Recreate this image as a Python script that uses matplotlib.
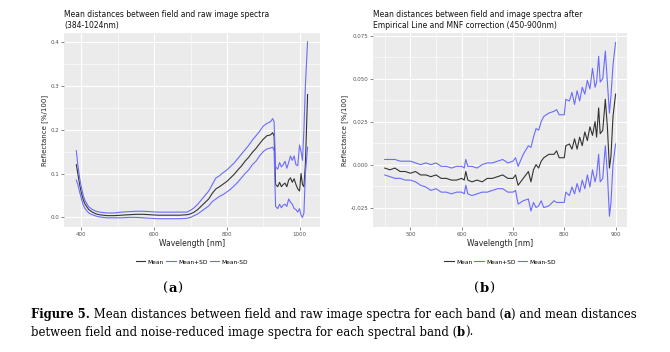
import numpy as np
import matplotlib.pyplot as plt
from matplotlib.ticker import MultipleLocator

# panel (a): raw image spectra
wl_a = [386, 390, 395, 400, 405, 410, 420, 430, 440, 450,
        470, 490, 510, 530, 550, 570, 590, 610, 630, 650, 670, 690,
        700, 710, 720, 730, 740, 750, 760, 770, 780, 790, 800, 810, 820,
        830, 840, 850, 860, 870, 880, 890, 900, 910, 920, 926, 930,
        934, 940, 945, 950, 955, 960, 965, 970, 975, 980, 985, 990, 995, 1000,
        1004, 1008, 1012, 1016, 1019, 1022]
mean_a = [0.12, 0.10, 0.075, 0.055, 0.04, 0.03, 0.018, 0.012, 0.008, 0.006,
          0.004, 0.004, 0.005, 0.006, 0.007, 0.007, 0.006, 0.005, 0.005, 0.005, 0.005, 0.006,
          0.008, 0.012, 0.018, 0.026, 0.034, 0.042, 0.055, 0.065, 0.070, 0.076, 0.082, 0.090, 0.098,
          0.108, 0.117, 0.128, 0.137, 0.148, 0.157, 0.168, 0.178, 0.186, 0.188, 0.193, 0.185,
          0.075, 0.070, 0.080, 0.070, 0.075, 0.078, 0.070, 0.085, 0.090, 0.080, 0.088, 0.075, 0.065, 0.060,
          0.100, 0.075, 0.070, 0.120, 0.200, 0.280]
plus_a = [0.152, 0.12, 0.09, 0.068, 0.05, 0.038, 0.024, 0.018, 0.014, 0.012,
          0.010, 0.010, 0.012, 0.013, 0.014, 0.014, 0.013, 0.012, 0.012, 0.012, 0.012, 0.012,
          0.016, 0.022, 0.030, 0.040, 0.050, 0.060, 0.075, 0.090, 0.095, 0.102, 0.108, 0.116, 0.124,
          0.134, 0.144, 0.154, 0.164, 0.176, 0.186, 0.196, 0.208, 0.214, 0.218, 0.225, 0.218,
          0.115, 0.110, 0.125, 0.115, 0.120, 0.128, 0.112, 0.125, 0.140, 0.130, 0.140, 0.120, 0.118, 0.165,
          0.150, 0.130, 0.200, 0.300, 0.350, 0.400]
minus_a = [0.085, 0.075, 0.058, 0.042, 0.028, 0.02, 0.010, 0.006, 0.003, 0.001,
           -0.001, -0.001, -0.001, 0.000, 0.000, -0.001, -0.002, -0.003, -0.003, -0.003, -0.003, -0.002,
           0.000, 0.004, 0.008, 0.014, 0.020, 0.026, 0.036, 0.042, 0.048, 0.052, 0.058, 0.064, 0.072,
           0.080, 0.090, 0.100, 0.108, 0.120, 0.128, 0.140, 0.150, 0.156, 0.158, 0.160, 0.152,
           0.025, 0.020, 0.030, 0.022, 0.028, 0.030, 0.025, 0.042, 0.035, 0.030, 0.020, 0.018, 0.012, 0.020,
           0.005, 0.000, 0.010, 0.100, 0.130, 0.160]

# panel (b): after Empirical Line + MNF
wl_b = [450, 460, 470, 480, 490, 500, 510, 520, 530, 540, 550, 560, 570, 580, 590,
        600, 605, 608, 612, 620, 630, 640, 650, 660, 670, 680, 690, 700, 705, 710,
        720, 730, 735, 740, 745, 750, 755, 760, 770, 780, 785, 790, 800, 803, 810,
        815, 820, 825, 830, 835, 840, 845, 850, 855, 860, 863, 867, 870, 875, 880,
        884, 888, 891, 895, 900]
mean_b = [-0.002, -0.003, -0.002, -0.004, -0.004, -0.005, -0.004, -0.006, -0.006, -0.007, -0.006, -0.008, -0.008, -0.009, -0.009,
          -0.008, -0.009, -0.004, -0.009, -0.010, -0.009, -0.010, -0.008, -0.008, -0.007, -0.006, -0.008, -0.008, -0.006, -0.012,
          -0.008, -0.004, -0.010, -0.003, 0.000, -0.002, 0.002, 0.004, 0.006, 0.006, 0.008, 0.004, 0.004, 0.011, 0.012,
          0.009, 0.015, 0.009, 0.016, 0.011, 0.019, 0.014, 0.022, 0.017, 0.025, 0.016, 0.033, 0.018, 0.020, 0.038,
          0.022, -0.002, 0.005, 0.028, 0.041]
plus_b = [0.003, 0.003, 0.003, 0.002, 0.002, 0.002, 0.001, 0.000, 0.001, 0.000, 0.001, -0.001, -0.001, -0.002, -0.001,
          -0.001, -0.002, 0.003, -0.001, -0.001, -0.002, 0.000, 0.001, 0.001, 0.002, 0.003, 0.001, 0.002, 0.004, -0.001,
          0.006, 0.011, 0.010, 0.016, 0.021, 0.020, 0.025, 0.028, 0.030, 0.031, 0.032, 0.029, 0.029, 0.038, 0.037,
          0.042, 0.035, 0.043, 0.037, 0.045, 0.041, 0.049, 0.044, 0.056, 0.045, 0.048, 0.063, 0.048, 0.050, 0.066,
          0.048, 0.030, 0.040, 0.058, 0.071]
minus_b = [-0.006, -0.007, -0.008, -0.008, -0.009, -0.009, -0.010, -0.012, -0.013, -0.015, -0.014, -0.016, -0.016, -0.017, -0.016,
           -0.016, -0.017, -0.012, -0.017, -0.018, -0.017, -0.016, -0.016, -0.015, -0.014, -0.014, -0.016, -0.016, -0.015, -0.023,
           -0.021, -0.020, -0.027, -0.022, -0.025, -0.024, -0.021, -0.025, -0.024, -0.021, -0.022, -0.022, -0.022, -0.016, -0.018,
           -0.013, -0.017, -0.011, -0.016, -0.009, -0.014, -0.006, -0.013, -0.003, -0.010, -0.006, 0.006, -0.010, -0.008, 0.011,
           -0.005, -0.030, -0.022, 0.000, 0.012]

labels = ['Mean', 'Mean+SD', 'Mean-SD']
col_mean = '#333333'
col_sd = '#6b6bff'
serif = ['DejaVu Serif']

fig = plt.figure(figsize=(6.7, 3.52), dpi=100)


def gg_panel(ax, wl, m, p, mn, title, xmaj, xmin_, ymaj, ymin_, yfmt):
    ax.set_facecolor('#EBEBEB')
    for s in ax.spines.values():
        s.set_visible(False)
    ax.xaxis.set_major_locator(MultipleLocator(xmaj))
    ax.xaxis.set_minor_locator(MultipleLocator(xmin_))
    ax.yaxis.set_major_locator(MultipleLocator(ymaj))
    ax.yaxis.set_minor_locator(MultipleLocator(ymin_))
    ax.grid(which='major', color='white', lw=0.8)
    ax.grid(which='minor', color='white', lw=0.4)
    ax.set_axisbelow(True)
    ax.tick_params(which='major', length=2, width=0.5, color='#555555',
                   labelsize=4, labelcolor='#555555', pad=1.5)
    ax.tick_params(which='minor', length=0)
    ax.yaxis.set_major_formatter(yfmt)
    l1, = ax.plot(wl, m, color=col_mean, lw=0.8)
    l2, = ax.plot(wl, p, color=col_sd, lw=0.8)
    l3, = ax.plot(wl, mn, color=col_sd, lw=0.8)
    ax.set_xlabel('Wavelength [nm]', fontsize=5.5, color='#222222', labelpad=1.5)
    ax.set_ylabel('Reflectance [%/100]', fontsize=5, color='#222222', labelpad=2)
    ax.set_title(title, fontsize=5.5, loc='left', pad=4, color='#111111')
    ax.legend([l1, l2, l3], labels, loc='upper center', bbox_to_anchor=(0.5, -0.14),
              ncol=3, frameon=False, fontsize=4.2, handlelength=1.6,
              columnspacing=0.4, handletextpad=0.4)
    return ax


ax1 = fig.add_axes([0.0955, 0.355, 0.382, 0.551])
ax1.set_xlim(352, 1056)
ax1.set_ylim(-0.022, 0.42)
gg_panel(ax1, wl_a, mean_a, plus_a, minus_a,
         'Mean distances between field and raw image spectra\n(384-1024nm)',
         200, 100, 0.1, 0.05, lambda v, pos: '%.1f' % v)

ax2 = fig.add_axes([0.557, 0.355, 0.379, 0.551])
ax2.set_xlim(427.5, 922.5)
ax2.set_ylim(-0.0363, 0.0765)
gg_panel(ax2, wl_b, mean_b, plus_b, minus_b,
         'Mean distances between field and image spectra after\nEmpirical Line and MNF correction (450-900nm)',
         100, 50, 0.025, 0.0125, lambda v, pos: '%.3f' % v)

renderer = fig.canvas.get_renderer()


def runs(x, y, parts, size):
    # lay out text pieces one after another, bold where asked
    for txt, bold in parts:
        t = fig.text(x, y, txt, fontsize=size, family=serif,
                     weight='bold' if bold else 'normal')
        x += t.get_window_extent(renderer=renderer).width / fig.bbox.width


runs(0.244, 0.171, [('(', False), ('a', True), (')', False)], 9.5)
runs(0.708, 0.171, [('(', False), ('b', True), (')', False)], 9.5)

cap = 8.4
runs(0.046, 0.097, [('Figure 5.', True),
                    (' Mean distances between field and raw image spectra for each band (', False),
                    ('a', True), (') and mean distances', False)], cap)
runs(0.046, 0.045, [('between field and noise-reduced image spectra for each spectral band (', False),
                    ('b', True), (').', False)], cap)

fig.savefig('out.png', dpi=100)
